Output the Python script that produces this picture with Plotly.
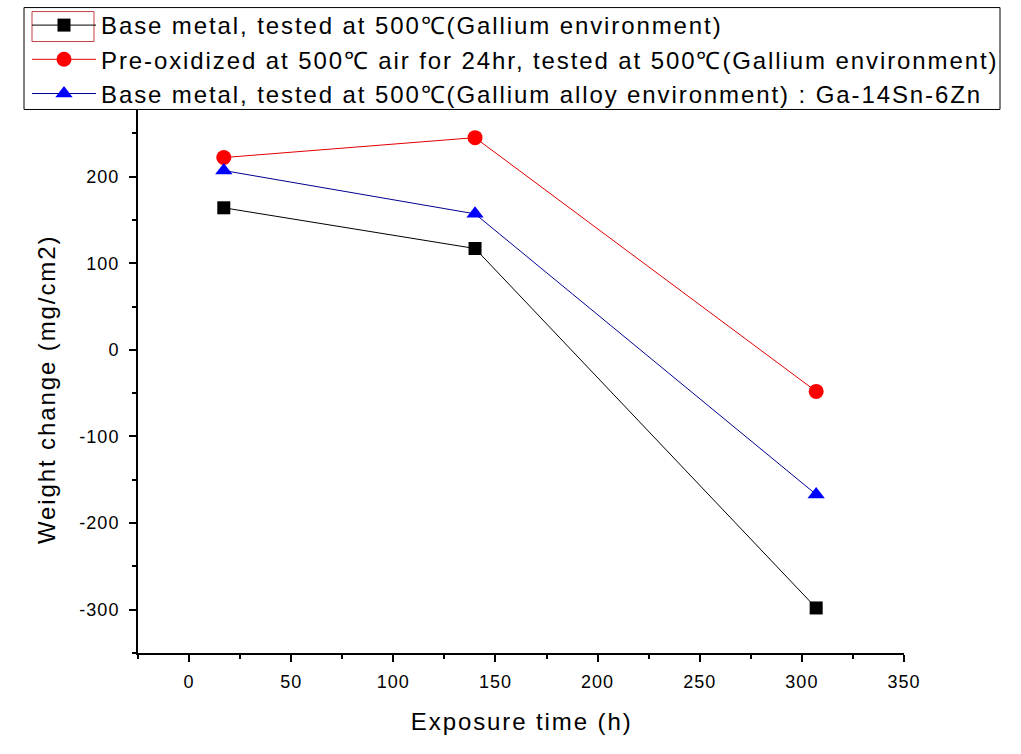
import plotly.graph_objects as go

exposure_h = [17, 140, 307]
base_ga = [164, 117, -298]
preox_ga = [222, 245, -48]
base_alloy = [207, 157, -167]

names = [
    "Base metal, tested at 500\u2103(Gallium environment)",
    "Pre-oxidized at 500\u2103 air for 24hr, tested at 500\u2103(Gallium environment)",
    "Base metal, tested at 500\u2103(Gallium alloy environment) : Ga-14Sn-6Zn",
]
x_tickvals = [0, 50, 100, 150, 200, 250, 300, 350]
x_ticktext = ["0", "50", "100", "150", "200", "250", "300", "350"]
y_tickvals = [-300, -200, -100, 0, 100, 200]
y_ticktext = ["-300", "-200", "-100", "0", "100", "200"]
x_title = "Exposure time (h)"
y_title = "Weight change (mg/cm2)"

L, R, T, B = 138, 117, 89.5, 101
W, H = 1021, 754
pw, ph = W - L - R, H - T - B


def px_x(p):
    return (p - L) / pw


def px_y(p):
    return 1 - (p - T) / ph


FONT = "Liberation Sans, Arial"

fig = go.Figure()
fig.add_trace(go.Scatter(x=exposure_h, y=base_ga, name=names[0], mode="lines+markers",
                         legendgroup="a",
                         line=dict(color="black", width=1),
                         marker=dict(symbol="square", size=13, color="black")))
fig.add_trace(go.Scatter(x=exposure_h, y=preox_ga, name=names[1], mode="lines+markers",
                         legendgroup="b",
                         line=dict(color="#e00000", width=1),
                         marker=dict(symbol="circle", size=15, color="#ff0000")))
fig.add_trace(go.Scatter(x=exposure_h, y=base_alloy, name=names[2], mode="lines+markers",
                         legendgroup="c",
                         line=dict(color="#000090", width=1),
                         marker=dict(symbol="triangle-up", size=15, color="#0000ff")))

axis_common = dict(showline=True, linecolor="black", linewidth=2, ticks="outside",
                   ticklen=7, tickwidth=2, tickcolor="black", showgrid=False, zeroline=False,
                   tickmode="array",
                   tickfont=dict(family=FONT, size=18, color="black"))

fig.update_layout(
    width=W, height=H,
    margin=dict(l=L, r=R, t=T, b=B, autoexpand=False),
    paper_bgcolor="white", plot_bgcolor="white",
    showlegend=True,
    legend=dict(xref="container", yref="container", x=27 / W, y=1 - 3 / H,
                xanchor="left", yanchor="top",
                bgcolor="rgba(0,0,0,0)", borderwidth=0,
                font=dict(family=FONT, size=24, color="black"),
                itemwidth=64, tracegroupgap=0),
    xaxis=dict(range=[-25, 350], tickvals=x_tickvals, ticktext=x_ticktext,
               minor=dict(ticks="outside", ticklen=4, tickwidth=2, tickcolor="black", dtick=25, tick0=0),
               ticklabelstandoff=4, **axis_common),
    yaxis=dict(range=[-350, 300], tickvals=y_tickvals, ticktext=y_ticktext,
               minor=dict(ticks="outside", ticklen=4, tickwidth=2, tickcolor="black", dtick=50, tick0=0),
               ticklabelstandoff=6, **axis_common),
)

# legend frame (drawn as a shape so it covers the top of the y axis)
fig.add_shape(type="rect", xref="paper", yref="paper", layer="above",
              x0=px_x(24), x1=px_x(1000), y0=px_y(109), y1=px_y(7),
              line=dict(color="black", width=1), fillcolor="white")
fig.add_shape(type="rect", xref="paper", yref="paper", layer="above",
              x0=px_x(32), x1=px_x(94), y0=px_y(41), y1=px_y(11),
              line=dict(color="#c04040", width=1))

fig.add_annotation(text=x_title, xref="paper", yref="paper", x=px_x(521), y=px_y(722),
                   xanchor="center", yanchor="middle", showarrow=False,
                   font=dict(family=FONT, size=24, color="black"))
fig.add_annotation(text=y_title, xref="paper", yref="paper", x=px_x(46), y=px_y(389),
                   xanchor="center", yanchor="middle", showarrow=False, textangle=-90,
                   font=dict(family=FONT, size=24, color="black"))

post = """
var s=document.createElement('style');
s.textContent='html,body{margin:0 !important;padding:0 !important;overflow:hidden;} .legend .scrollbox{clip-path:none !important;} .legendtext{letter-spacing:1.9px;} .xtick text,.ytick text{letter-spacing:1px;} .annotation-text{letter-spacing:1.9px;}';
document.head.appendChild(s);
"""

fig.write_html("out.html", post_script=post, config={"displayModeBar": False})
